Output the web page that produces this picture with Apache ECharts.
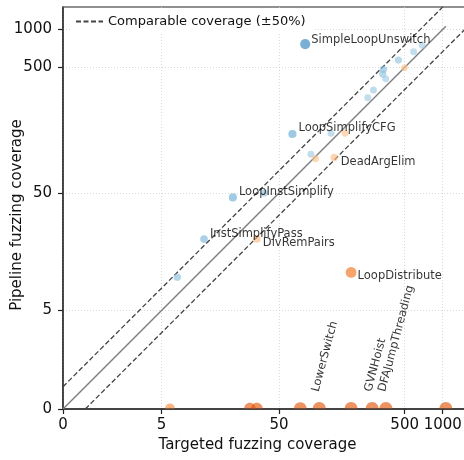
<!DOCTYPE html>
<html>
<head>
<meta charset="utf-8">
<script src="https://cdn.jsdelivr.net/npm/echarts@6/dist/echarts.min.js"></script>
<style>
html, body { margin: 0; padding: 0; background: #fff; }
#chart { width: 464px; height: 460px; }
</style>
</head>
<body>
<div id="chart"></div>
<script>
// coverage of each pass: targeted fuzzing vs. pipeline fuzzing
const passNames = [
  'SimpleLoopUnswitch', '', '', '', '', '', '', '', '', '',
  'LoopSimplifyCFG', '', '', '', '', 'DeadArgElim',
  'LoopInstSimplify', '', 'InstSimplifyPass', 'DivRemPairs', '', 'LoopDistribute',
  '', '', '', '', 'LowerSwitch', '', 'GVNHoist', 'DFAJumpThreading', ''
]
const targeted = [
  81, 688, 588, 446, 339, 335, 354, 283, 255, 498,
  64, 130, 168, 90, 98, 138,
  21, 38, 12, 33, 7, 188,
  6, 29, 33, 74, 105, 188, 276, 355, 1058
]
const pipeline = [
  763, 749, 663, 570, 482, 442, 405, 330, 287, 496,
  148, 150, 150, 102, 94, 96,
  46, 50, 21, 21, 10, 11,
  0, 0, 0, 0, 0, 0, 0, 0, 0
]
const tickValues = [0, 5, 50, 500, 1000]
const axisTop = 1500
const band = 1.5  // +-50%

const FONT = 'DejaVu Sans'
const L = v => Math.log10(1 + v)
const uMax = L(axisTop)
const ticks = tickValues.map(L)

// colour ramps (Blues / Oranges)
const blues = ['#f7fbff', '#deebf7', '#c6dbef', '#9ecae1', '#6baed6', '#4292c6', '#2171b5', '#08519c', '#08306b']
const oranges = ['#fff5eb', '#fee6ce', '#fdd0a2', '#fdae6b', '#fd8d3c', '#f16913', '#d94801', '#a63603', '#7f2704']

function ramp(pal, t) {
  const x = t * (pal.length - 1)
  const i = Math.min(pal.length - 2, Math.floor(x))
  const f = x - i
  const a = pal[i], b = pal[i + 1]
  const c = [1, 3, 5].map(k => {
    const p = parseInt(a.substr(k, 2), 16), q = parseInt(b.substr(k, 2), 16)
    return Math.round(p + (q - p) * f)
  })
  return 'rgba(' + c.join(',') + ',0.8)'
}

function pointColor(du) {
  if (du >= 0) return ramp(blues, 0.3 + 0.4 * Math.pow(Math.min(1, du), 0.6))
  return ramp(oranges, 0.3 + 0.4 * Math.pow(Math.min(1, -du / 1.5), 1.2))
}

const labelOffsets = {
  SimpleLoopUnswitch: [6, -4],
  LoopSimplifyCFG: [6, -5.5],
  DeadArgElim: [6.5, 4.5],
  LoopInstSimplify: [6, -5],
  InstSimplifyPass: [6, -5],
  DivRemPairs: [6, 4],
  LoopDistribute: [6.5, 4]
}

// upper half of a disc, for the points sitting on the x axis
const halfDisc = 'path://M0,10C0,4.5,4.5,0,10,0C15.5,0,20,4.5,20,10Z'
const ROT = 75 * Math.PI / 180

const points = targeted.map((t, i) => {
  const p = pipeline[i]
  const ux = L(t), uy = L(p), du = uy - ux
  const d = Math.sqrt(45 + 60 * Math.min(Math.abs(du), 2))
  const item = {
    value: [ux, uy],
    itemStyle: { color: pointColor(du) },
    symbolSize: d
  }
  const name = passNames[i]
  if (p === 0) {
    item.symbol = halfDisc
    item.symbolSize = [d, d / 2]
    item.symbolOffset = [0, -d / 4 - 0.5]
  }
  if (name) {
    item.name = name
    if (p === 0) {
      // wanted shift on screen, turned into the label's rotated frame
      const gx = 2, gy = -15.5 + d / 4
      const lx = gx * Math.cos(ROT) - gy * Math.sin(ROT)
      const ly = gx * Math.sin(ROT) + gy * Math.cos(ROT)
      item.label = {
        show: true, position: 'inside', align: 'left', verticalAlign: 'bottom',
        rotate: 75, offset: [lx, ly]
      }
    } else {
      item.label = {
        show: true, position: 'inside', align: 'left', verticalAlign: 'middle',
        offset: labelOffsets[name]
      }
    }
  }
  return item
})

const maxVal = Math.max(...targeted, ...pipeline)
const lb = Math.log10(band)

const chart = echarts.init(document.getElementById('chart'))
chart.setOption({
  animation: false,
  grid: { left: 63, top: 7, width: 402, height: 402, show: true, borderColor: '#222', borderWidth: 1.2, outerBoundsMode: 'none' },
  legend: {
    data: [{ name: 'Comparable coverage (±50%)', itemStyle: { opacity: 0 } }],
    left: 70, top: 10,
    itemWidth: 27, itemHeight: 14,
    selectedMode: false,
    backgroundColor: '#fff',
    padding: [5, 8, 5, 5],
    textStyle: { fontFamily: FONT, fontSize: 13, color: '#111' }
  },
  xAxis: {
    type: 'value', min: 0, max: uMax,
    name: 'Targeted fuzzing coverage', nameLocation: 'middle', nameGap: 29, nameMoveOverlap: false,
    nameTextStyle: { fontFamily: FONT, fontSize: 15, color: '#111', padding: [0, 13, 0, 0] },
    axisLine: { show: true, onZero: false, lineStyle: { color: '#444', width: 2 } },
    axisTick: { show: true, length: 5, customValues: ticks, lineStyle: { color: '#222', width: 1.2 } },
    axisLabel: {
      customValues: ticks, margin: 9, fontFamily: FONT, fontSize: 15, color: '#111',
      formatter: v => String(Math.round(Math.pow(10, v) - 1))
    },
    splitLine: { show: true, lineStyle: { color: '#cfcfcf', width: 0.8, type: [1, 2] } }
  },
  yAxis: {
    type: 'value', min: 0, max: uMax,
    name: 'Pipeline fuzzing coverage', nameLocation: 'middle', nameGap: 38, nameMoveOverlap: false,
    nameTextStyle: { fontFamily: FONT, fontSize: 15, color: '#111', padding: [0, 14, 0, 0] },
    axisLine: { show: true, onZero: false, lineStyle: { color: '#333', width: 1.5 } },
    axisTick: { show: true, length: 5, customValues: ticks, lineStyle: { color: '#222', width: 1.2 } },
    axisLabel: {
      customValues: ticks, margin: 11, fontFamily: FONT, fontSize: 15, color: '#111',
      formatter: v => String(Math.round(Math.pow(10, v) - 1))
    },
    splitLine: { show: true, lineStyle: { color: '#cfcfcf', width: 0.8, type: [1, 2] } }
  },
  series: [
    {
      name: 'Comparable coverage (±50%)', type: 'line', symbol: 'none', clip: true, z: 1,
      data: [[0, lb], [uMax, uMax + lb]],
      lineStyle: { color: '#444', width: 1.3, type: [5, 2.5] }
    },
    {
      name: 'lower', type: 'line', symbol: 'none', clip: true, z: 1,
      data: [[lb, 0], [uMax + lb, uMax]],
      lineStyle: { color: '#444', width: 1.3, type: [5, 2.5] }
    },
    {
      name: 'equal', type: 'line', symbol: 'none', clip: true, z: 1,
      data: [[0, 0], [L(maxVal), L(maxVal)]],
      lineStyle: { color: '#808080', width: 1.5 }
    },
    {
      name: 'passes', type: 'scatter', z: 3,
      data: points,
      label: {
        formatter: '{b}', fontFamily: FONT, fontSize: 11.5, color: '#000'
      },
      emphasis: { disabled: true }
    }
  ]
})
</script>
</body>
</html>
